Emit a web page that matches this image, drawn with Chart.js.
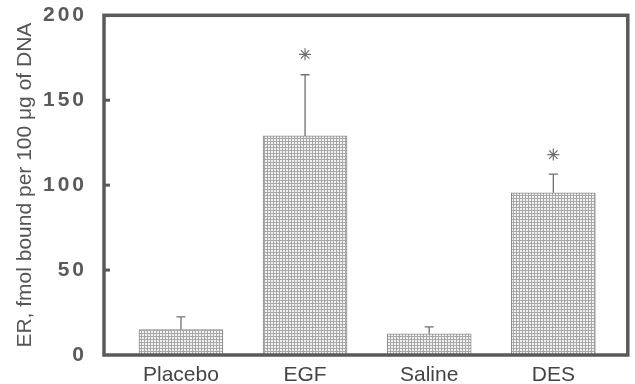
<!DOCTYPE html>
<html>
<head>
<meta charset="utf-8">
<script src="https://cdn.jsdelivr.net/npm/chart.js@4"></script>
<style>
  html, body { margin: 0; padding: 0; background: #fff; }
  #wrap { width: 635px; height: 384px; }
</style>
</head>
<body>
<div id="wrap"><canvas id="chart"></canvas></div>
<script>
// --- data ---
const categories = ['Placebo', 'EGF', 'Saline', 'DES'];
const means = [15, 129, 12.5, 95.5];
const sem = [7.5, 36, 4, 11];
const starValues = [null, 177, null, 118];
const yTicks = [0, 50, 100, 150, 200];

const ink = '#5a5a5a';

// fine grid fill like the printed screen
function makePattern() {
  const c = document.createElement('canvas');
  c.width = 3; c.height = 3;
  const g = c.getContext('2d');
  g.fillStyle = '#f2f2f2';
  g.fillRect(0, 0, 3, 3);
  g.fillStyle = '#a8a8a8';
  g.fillRect(0, 0, 3, 1);
  g.fillRect(0, 0, 1, 3);
  return g.createPattern(c, 'repeat');
}

const framePlugin = {
  id: 'frame',
  beforeDraw(chart) {
    const y = chart.scales.y;
    if (!y._spaced) {
      const orig = y.drawLabels;
      y.drawLabels = function (area) {
        const ctx = this.ctx;
        ctx.save();
        ctx.letterSpacing = '3px';
        orig.call(this, area);
        ctx.restore();
      };
      y._spaced = true;
    }
  },
  afterDatasetsDraw(chart) {
    const { ctx, chartArea: a, scales: { x, y } } = chart;
    // error bars (upper only)
    ctx.save();
    ctx.strokeStyle = '#707070';
    ctx.lineWidth = 1.3;
    means.forEach((m, i) => {
      const px = x.getPixelForValue(i + 1);
      const top = y.getPixelForValue(m + sem[i]);
      const base = y.getPixelForValue(m);
      ctx.beginPath();
      ctx.moveTo(px, base);
      ctx.lineTo(px, top);
      ctx.moveTo(px - 4.5, top);
      ctx.lineTo(px + 4.5, top);
      ctx.stroke();
    });
    ctx.restore();
    // inner ticks
    ctx.save();
    ctx.strokeStyle = ink;
    ctx.lineWidth = 3;
    yTicks.slice(1, -1).forEach(v => {
      const py = y.getPixelForValue(v);
      ctx.beginPath();
      ctx.moveTo(a.left, py);
      ctx.lineTo(a.left + 6, py);
      ctx.stroke();
    });
    // frame
    ctx.lineWidth = 3.5;
    ctx.strokeRect(a.left, a.top, a.right - a.left, a.bottom - a.top);
    ctx.restore();
  }
};

new Chart(document.getElementById('chart'), {
  type: 'bar',
  data: {
    datasets: [
      {
        type: 'bar',
        data: means.map((v, i) => ({ x: i + 1, y: v })),
        backgroundColor: makePattern(),
        borderColor: '#8a8a8a',
        borderWidth: 1,
        barThickness: 84,
        order: 2
      },
      {
        type: 'line',
        data: starValues.map((v, i) => ({ x: i + 1, y: v })),
        showLine: false,
        pointStyle: 'star',
        pointRadius: 6,
        borderColor: '#707070',
        borderWidth: 1.2,
        backgroundColor: 'transparent',
        order: 1
      }
    ]
  },
  options: {
    responsive: true,
    maintainAspectRatio: false,
    animation: false,
    layout: { padding: { top: 0, right: 4, left: 0, bottom: 0 } },
    plugins: { legend: { display: false }, tooltip: { enabled: false } },
    scales: {
      x: {
        type: 'linear',
        offset: false,
        bounds: 'ticks',
        min: 0.38,
        max: 4.6,
        grid: { display: false, offset: false },
        border: { display: false },
        afterBuildTicks: s => { s.ticks = [1, 2, 3, 4].map(v => ({ value: v })); },
        afterFit: s => { s.height = 29; },
        ticks: {
          callback: v => categories[v - 1],
          color: '#444',
          font: { family: 'Liberation Sans', size: 21 },
          padding: 0,
          maxRotation: 0
        }
      },
      y: {
        min: 0,
        max: 200,
        grid: { display: false },
        border: { display: false },
        afterBuildTicks: s => { s.ticks = yTicks.map(v => ({ value: v })); },
        afterFit: s => { s.width = 104; },
        ticks: {
          color: ink,
          font: { family: 'Liberation Sans', size: 21, weight: 'bold', lineHeight: 0.6 },
          padding: 9
        },
        title: {
          display: true,
          text: 'ER, fmol bound per 100 μg of DNA',
          color: '#555',
          font: { family: 'Liberation Sans', size: 21 },
          padding: { top: 13, bottom: 0 }
        }
      }
    }
  },
  plugins: [framePlugin]
});
</script>
</body>
</html>
